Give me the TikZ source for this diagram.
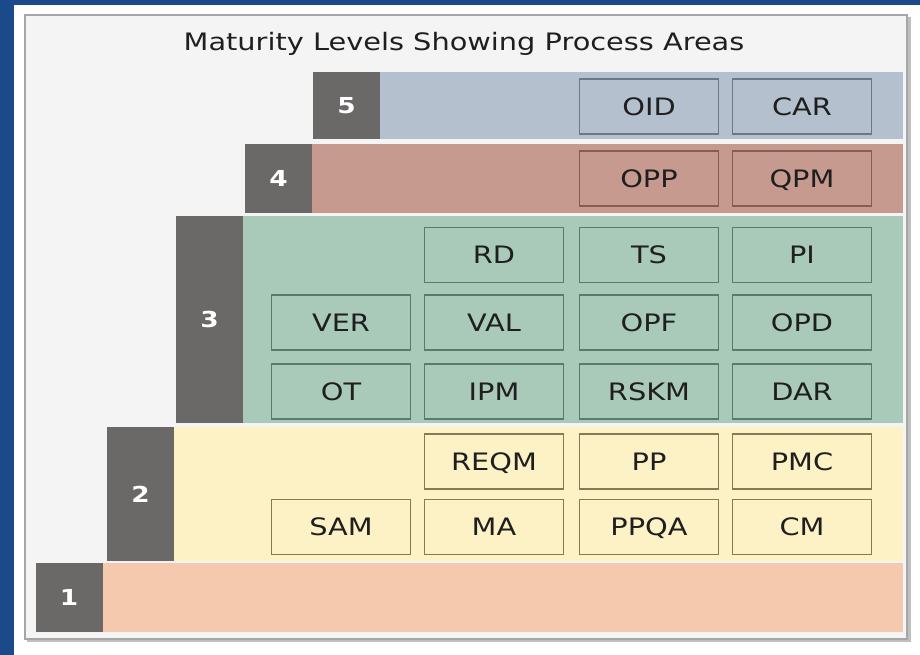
\documentclass[tikz,border=0pt]{standalone}
\usepackage{fontspec}
\setmainfont{DejaVu Sans}[FakeStretch=1.2]
\definecolor{bgblue}{HTML}{1A4A8A}
\definecolor{panel}{HTML}{F4F4F4}
\definecolor{lvlgray}{HTML}{6B6868}
\definecolor{fivefill}{HTML}{B5C0CF}
\definecolor{fivedraw}{HTML}{6A788A}
\definecolor{fourfill}{HTML}{C69A8E}
\definecolor{fourdraw}{HTML}{875D53}
\definecolor{threefill}{HTML}{A9C9B9}
\definecolor{threedraw}{HTML}{5A7A6A}
\definecolor{twofill}{HTML}{FDF2C6}
\definecolor{twodraw}{HTML}{857A55}
\definecolor{onefill}{HTML}{F5C9AE}
\begin{document}
\begin{tikzpicture}[x=1pt,y=-1pt,
  lvl/.style={fill=lvlgray, text=white, minimum width=67pt, inner sep=0pt,
    text height=16pt, text depth=0pt, font=\bfseries\fontsize{22}{26}\selectfont},
  area/.style={draw, line width=1.5pt, minimum width=139pt, minimum height=55pt,
    inner sep=0pt, text height=17.5pt, text depth=0pt, text=black!88,
    font=\fontsize{24}{28}\selectfont}]
\useasboundingbox (0,0) rectangle (920,655);
\fill[bgblue] (0,0) rectangle (920,655);
\fill[white] (14,5) rectangle (920,655);
\fill[gray!50] (27,17) rectangle (911,642);
\filldraw[fill=panel, draw=gray!70, line width=1.2pt] (25,15) rectangle (907,639);

\node[font=\fontsize{24}{28}\selectfont, text=black!88] (title) at (464,44) {Maturity Levels Showing Process Areas};

% level bands
\fill[fivefill]  (380,72)  rectangle (903,139);
\fill[fourfill]  (312,144) rectangle (903,213);
\fill[threefill] (243,216) rectangle (903,423);
\fill[twofill]   (174,427) rectangle (903,561);
\fill[onefill]   (103,563) rectangle (903,632);

\node[lvl, minimum height=67pt]  (l5) at (346.5,105.5) {5};
\node[lvl, minimum height=69pt]  (l4) at (278.5,178.5) {4};
\node[lvl, minimum height=207pt] (l3) at (209.5,319.5) {3};
\node[lvl, minimum height=134pt] (l2) at (140.5,494)   {2};
\node[lvl, minimum height=69pt]  (l1) at (69,597.5)    {1};

% process areas
\begin{scope}[every node/.append style={area, fill=fivefill, draw=fivedraw}]
  \node (oid) at (649,106.5) {OID};
  \node (car) at (802,106.5) {CAR};
\end{scope}
\begin{scope}[every node/.append style={area, fill=fourfill, draw=fourdraw}]
  \node (opp) at (649,178.5) {OPP};
  \node (qpm) at (802,178.5) {QPM};
\end{scope}
\begin{scope}[every node/.append style={area, fill=threefill, draw=threedraw}]
  \node (rd)   at (494,255)   {RD};
  \node (ts)   at (649,255)   {TS};
  \node (pi)   at (802,255)   {PI};
  \node (ver)  at (341,322.5) {VER};
  \node (val)  at (494,322.5) {VAL};
  \node (opf)  at (649,322.5) {OPF};
  \node (opd)  at (802,322.5) {OPD};
  \node (ot)   at (341,391.5) {OT};
  \node (ipm)  at (494,391.5) {IPM};
  \node (rskm) at (649,391.5) {RSKM};
  \node (dar)  at (802,391.5) {DAR};
\end{scope}
\begin{scope}[every node/.append style={area, fill=twofill, draw=twodraw}]
  \node (reqm) at (494,461.5) {REQM};
  \node (pp)   at (649,461.5) {PP};
  \node (pmc)  at (802,461.5) {PMC};
  \node (sam)  at (341,527)   {SAM};
  \node (ma)   at (494,527)   {MA};
  \node (ppqa) at (649,527)   {PPQA};
  \node (cm)   at (802,527)   {CM};
\end{scope}
\end{tikzpicture}
\end{document}
